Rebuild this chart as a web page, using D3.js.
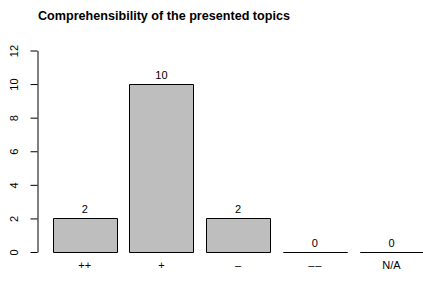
<!DOCTYPE html>
<html><head><meta charset="utf-8">
<script src="https://cdn.jsdelivr.net/npm/d3@7"></script>
<style>body{margin:0;background:#fff}svg{display:block}text{font-family:"Liberation Sans",Arial,sans-serif}</style>
</head><body>
<script>
const categories = ["++", "+", "\u2013", "\u2013\u200a\u2013", "N/A"];
const values = [2, 10, 2, 0, 0];
const yTicks = [0, 2, 4, 6, 8, 10, 12];
const title = "Comprehensibility of the presented topics";

const W = 423, H = 281;
const svg = d3.select("body").append("svg").attr("width", W).attr("height", H);

const space = 0.2, bw = 1;
const x = d3.scaleLinear().domain([0, 6]).range([40, 423.5]);
const y = d3.scaleLinear().domain([0, 12]).range([252, 50.5]);

svg.append("text").attr("x", 38).attr("y", 20)
  .attr("font-size", 12.6).attr("font-weight", "bold").text(title);

const bars = categories.map((c, i) => ({c, v: values[i], x0: space + i * (bw + space)}));

svg.selectAll("path.bar").data(bars).enter().append("path")
  .attr("d", d => {
    const x0 = Math.round(x(d.x0)) + 0.5, x1 = Math.round(x(d.x0 + bw)) + 0.5;
    const y0 = Math.round(y(0)) + 0.5, y1 = Math.round(y(d.v)) + 0.5;
    return `M${x0},${y0}L${x0},${y1}L${x1},${y1}L${x1},${y0}Z`;
  })
  .attr("fill", "#bebebe").attr("stroke", "#000").attr("stroke-width", 1);

svg.selectAll("text.val").data(bars).enter().append("text")
  .attr("x", d => x(d.x0 + bw / 2))
  .attr("y", d => y(d.v) - 5)
  .attr("text-anchor", "middle").attr("font-size", 11).text(d => d.v);

svg.selectAll("text.cat").data(bars).enter().append("text")
  .attr("x", d => x(d.x0 + bw / 2))
  .attr("y", 269)
  .attr("text-anchor", "middle").attr("font-size", 11).text(d => d.c);

const yAxis = d3.axisLeft(y).tickValues(yTicks).tickSize(7).tickPadding(4).tickSizeOuter(0);
const g = svg.append("g").attr("transform", "translate(37.5,0)").call(yAxis);
g.select(".domain").attr("stroke", "#000");
g.selectAll(".tick line").attr("stroke", "#000");
g.selectAll(".tick text").attr("font-size", 11).attr("font-family", "Liberation Sans, Arial, sans-serif")
  .attr("fill", "#000")
  .each(function(d){
    d3.select(this).attr("x", null).attr("dy", "0.35em").attr("text-anchor", "middle")
     .attr("transform", `translate(-23,0) rotate(-90)`);
  });
</script>
</body></html>
